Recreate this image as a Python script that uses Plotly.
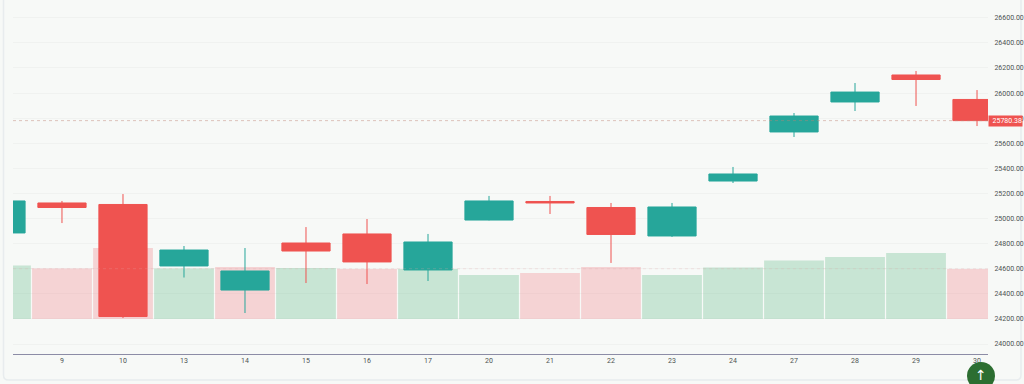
import plotly.graph_objects as go

# ---- data ----
days = ["8", "9", "10", "13", "14", "15", "16", "17", "20", "21", "22", "23", "24", "27", "28", "29", "30"]
opens = [24885, 25124, 25112, 24622, 24430, 24805, 24877, 24590, 24988, 25136, 25088, 24861, 25299, 25690, 25929, 26144, 25949]
highs = [25150, 25140, 25195, 24781, 24765, 24932, 24996, 24877, 25180, 25180, 25124, 25124, 25411, 25841, 26080, 26176, 26024]
lows = [24880, 24964, 24207, 24530, 24247, 24486, 24478, 24502, 24985, 25036, 24646, 24853, 25283, 25650, 25857, 25897, 25737]
closes = [25140, 25088, 24219, 24749, 24582, 24741, 24654, 24813, 25140, 25124, 24873, 25092, 25355, 25817, 26008, 26108, 25780.38]
volumes = [53.5, 50.5, 71, 50.5, 52, 51, 50, 50, 44, 46, 52, 44, 51.5, 58.5, 62, 66, 50]
volume_up = [1, 0, 0, 1, 0, 1, 0, 1, 1, 0, 0, 1, 1, 1, 1, 1, 0]
price_ticks = [24000, 24200, 24400, 24600, 24800, 25000, 25200, 25400, 25600, 25800, 26000, 26200, 26400, 26600]
last_price = 25780.38

# ---- style ----
W, H = 1024, 384
L, R, B = 13, 36, 30
PW, PH = W - L - R, H - B
UP, DOWN = "#26a69a", "#ef5350"
VOL_UP, VOL_DOWN = "rgba(59,173,107,0.25)", "rgba(239,101,107,0.25)"
CARD = "#f7f9f7"
TEXT = "#4d5252"
FONT = "Roboto"
SIZE = 7

def px(x):
    return (x - L) / PW

def py(y):
    return (PH - y) / PH

xs = list(range(len(days)))
vol_colors = [VOL_UP if u else VOL_DOWN for u in volume_up]

fig = go.Figure()
fig.add_trace(go.Bar(x=xs, y=volumes, marker=dict(color=vol_colors, line=dict(width=0)), yaxis="y", xaxis="x",
                     showlegend=False, hoverinfo="skip"))
fig.add_trace(go.Candlestick(x=xs, open=opens, high=highs, low=lows, close=closes, yaxis="y2", xaxis="x",
                             increasing=dict(line=dict(color=UP, width=1), fillcolor=UP),
                             decreasing=dict(line=dict(color=DOWN, width=1), fillcolor=DOWN),
                             whiskerwidth=0, showlegend=False))

# card outline
cx0, cx1, cy1, r = 3.5, 1021, 380, 5
card_path = (f"M {px(cx0)} {py(-5)} L {px(cx0)} {py(cy1 - r)} Q {px(cx0)} {py(cy1)} {px(cx0 + r)} {py(cy1)} "
             f"L {px(cx1 - r)} {py(cy1)} Q {px(cx1)} {py(cy1)} {px(cx1)} {py(cy1 - r)} L {px(cx1)} {py(-5)}")
shapes = [
    dict(type="path", path=card_path, xref="paper", yref="paper", layer="below",
         line=dict(color="#e8ecee", width=1.5)),
    dict(type="line", xref="paper", x0=0, x1=1, yref="y2", y0=24600, y1=24600, layer="above",
         line=dict(color="rgba(230,170,170,0.25)", width=1, dash="dot")),
    dict(type="line", xref="paper", x0=0, x1=1, yref="y2", y0=last_price, y1=last_price, layer="above",
         line=dict(color="rgba(190,130,115,0.45)", width=1, dash="dot")),
    dict(type="circle", xref="paper", yref="paper", layer="above", x0=px(967), x1=px(995), y0=py(390), y1=py(362),
         fillcolor="#2c6e31", line=dict(width=0)),
]
annotations = [
    dict(xref="paper", yref="y2", x=1, y=last_price, xanchor="left", yanchor="middle", showarrow=False,
         text=f"{last_price:.2f}", font=dict(family=FONT, size=SIZE, color="white"), bgcolor=DOWN,
         width=33, height=10, align="right", borderpad=0, xshift=0),
    dict(xref="paper", yref="paper", x=px(981), y=py(375.5), xanchor="center", yanchor="middle", showarrow=False,
         text="↑", font=dict(family="DejaVu Sans", size=14, color="white")),
]

fig.update_layout(
    width=W, height=H,
    autosize=False,
    margin=dict(l=L, r=R, t=0, b=B, pad=0),
    paper_bgcolor=CARD, plot_bgcolor=CARD,
    bargap=0.02, boxgap=0.21, boxgroupgap=0,
    font=dict(family=FONT, size=SIZE, color=TEXT),
    showlegend=False,
    shapes=shapes, annotations=annotations,
    xaxis=dict(range=[0.197, 16.18], tickmode="array", tickvals=xs, ticktext=days, showgrid=False, automargin=False,
               rangeslider=dict(visible=False), showline=True, linecolor="#8c8ca6", linewidth=1, ticks="",
               tickfont=dict(family=FONT, size=SIZE, color=TEXT), zeroline=False),
    yaxis=dict(range=[-35, 319], visible=False, showgrid=False, zeroline=False, fixedrange=True, automargin=False),
    yaxis2=dict(range=[23920.3, 26741.7], overlaying="y", side="right", anchor="x", tickmode="array", automargin=False,
                tickvals=price_ticks, ticktext=[f"{v:.2f}" for v in price_ticks], showgrid=True,
                gridcolor="#f0f2f0", gridwidth=1, zeroline=False, showline=False, ticks="outside", ticklen=4,
                tickcolor="rgba(0,0,0,0)", tickfont=dict(family=FONT, size=SIZE, color=TEXT)),
)

fig.write_html("out.html", config=dict(displayModeBar=False),
               full_html=True, include_plotlyjs=True,
               post_script="document.body.style.margin='0';document.body.style.overflow='hidden';document.documentElement.style.overflow='hidden';document.querySelectorAll('.boxlayer path').forEach(function(p){p.style.strokeLinejoin='miter';});")
